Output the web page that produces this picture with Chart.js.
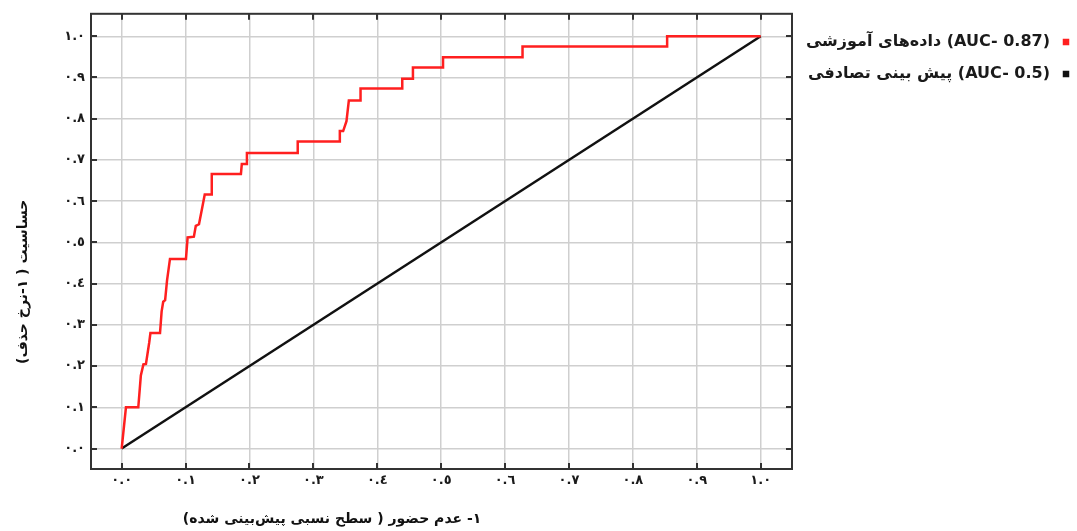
<!DOCTYPE html>
<html lang="fa">
<head>
<meta charset="utf-8">
<script src="https://cdn.jsdelivr.net/npm/chart.js@4.4.1/dist/chart.umd.min.js"></script>
<style>
  html, body { margin: 0; padding: 0; background: #fff; }
  #wrap { width: 1077px; height: 531px; }
</style>
</head>
<body>
<div id="wrap"><canvas id="rocChart"></canvas></div>
<script>
// ROC curve of the training data (false positive rate / sensitivity)
const rocFpr = [0, 0.0067, 0.026, 0.030, 0.034, 0.038, 0.043, 0.045, 0.060, 0.0625,
  0.065, 0.068, 0.071, 0.0756, 0.1006, 0.1032, 0.113, 0.116, 0.121, 0.127,
  0.130, 0.140, 0.141, 0.1866, 0.188, 0.196, 0.196, 0.2755, 0.2755, 0.3403,
  0.3414, 0.3466, 0.3518, 0.3555, 0.3738, 0.3738, 0.4391, 0.4391, 0.4558, 0.4558,
  0.5029, 0.5029, 0.6273, 0.6273, 0.8536, 0.8536, 1.0]
const rocTpr = [0, 0.100, 0.100, 0.177, 0.204, 0.205, 0.256, 0.280, 0.280, 0.332,
  0.356, 0.360, 0.408, 0.460, 0.460, 0.512, 0.514, 0.540, 0.544, 0.592,
  0.616, 0.616, 0.666, 0.666, 0.690, 0.690, 0.717, 0.717, 0.745, 0.745,
  0.770, 0.770, 0.794, 0.844, 0.844, 0.873, 0.873, 0.897, 0.897, 0.924,
  0.924, 0.949, 0.949, 0.975, 0.975, 1.0, 1.0]

// random prediction diagonal
const chanceFpr = [0, 1]
const chanceTpr = [0, 1]

const tickValues = [0, 0.1, 0.2, 0.3, 0.4, 0.5, 0.6, 0.7, 0.8, 0.9, 1.0]
const tickLabels = ['٠.٠', '٠.١', '٠.٢', '٠.٣', '٠.٤', '٠.٥', '٠.٦', '٠.٧', '٠.٨', '٠.٩', '١.٠']

const seriesLabels = ['(AUC- 0.87) داده‌های آموزشی', '(AUC- 0.5) پیش بینی تصادفی']
const seriesColors = ['#ff1f1f', '#111111']

const xTitle = '۱- عدم حضور ( سطح نسبی پیش‌بینی شده)'
const yTitle = 'حساسیت ( ۱-نرخ حذف)'

const plotLeft = 91
const plotTop = 9
const plotBottom = 469
const legendBoxWidth = 298 // legend spans from the plot's right edge past the canvas edge
const legendOverhang = 13

const fontFamily = '"DejaVu Sans", sans-serif'

function toPoints(xs, ys) {
  return xs.map((x, i) => ({ x, y: ys[i] }))
}

function setTicks(scale) {
  scale.ticks = tickValues.map(v => ({ value: v }))
}

// keep the legend at a fixed width so the plot keeps its right edge
const pinLegend = {
  id: 'pinLegend',
  afterInit(chart) {
    const legend = chart.legend
    const fit = legend.fit.bind(legend)
    legend.fit = () => {
      fit()
      legend.width = legendBoxWidth
    }
  },
}

const frameAndTitles = {
  id: 'frameAndTitles',
  afterDatasetsDraw(chart) {
    const { ctx, chartArea: { left, right, top, bottom }, scales: { x, y } } = chart
    ctx.save()
    ctx.strokeStyle = '#333'
    ctx.lineWidth = 2
    ctx.strokeRect(left, top, right - left, bottom - top)

    ctx.beginPath()
    tickValues.forEach(v => {
      const px = Math.round(x.getPixelForValue(v))
      const py = Math.round(y.getPixelForValue(v))
      ctx.moveTo(px, bottom); ctx.lineTo(px, bottom - 6)
      ctx.moveTo(px, top); ctx.lineTo(px, top + 6)
      ctx.moveTo(left, py); ctx.lineTo(left + 6, py)
      ctx.moveTo(right, py); ctx.lineTo(right - 6, py)
    })
    ctx.stroke()

    ctx.direction = 'rtl'
    ctx.fillStyle = '#111'
    ctx.font = `bold 14px ${fontFamily}`
    ctx.textAlign = 'center'
    ctx.textBaseline = 'middle'
    ctx.fillText(xTitle, left + 241, bottom + 50)

    ctx.translate(23, top + 268)
    ctx.rotate(-Math.PI / 2)
    ctx.fillText(yTitle, 0, 0)
    ctx.restore()
  },
}

const ctx = document.getElementById('rocChart').getContext('2d')

new Chart(ctx, {
  type: 'scatter',
  data: {
    datasets: [
      {
        label: seriesLabels[0],
        data: toPoints(rocFpr, rocTpr),
        borderColor: seriesColors[0],
        backgroundColor: seriesColors[0],
        borderWidth: 2.5,
      },
      {
        label: seriesLabels[1],
        data: toPoints(chanceFpr, chanceTpr),
        borderColor: seriesColors[1],
        backgroundColor: seriesColors[1],
        borderWidth: 2.5,
      },
    ],
  },
  options: {
    responsive: true,
    maintainAspectRatio: false,
    animation: false,
    showLine: true,
    elements: {
      point: { radius: 0, hoverRadius: 0 },
      line: { tension: 0 },
    },
    layout: {
      padding: { left: 0, top: plotTop, bottom: 0, right: -legendOverhang },
    },
    scales: {
      x: {
        type: 'linear',
        min: -0.048,
        max: 1.049,
        bounds: 'data',
        afterBuildTicks: setTicks,
        afterFit: s => { s.height = 531 - plotBottom },
        border: { display: false },
        grid: { color: '#cfcfcf', lineWidth: 1.5, drawTicks: false },
        ticks: {
          autoSkip: false,
          maxRotation: 0,
          padding: 4,
          color: '#1a1a1a',
          font: { family: fontFamily, size: 13, weight: 'bold' },
          callback: (v, i) => tickLabels[i],
        },
      },
      y: {
        type: 'linear',
        min: -0.0497,
        max: 1.0545,
        bounds: 'data',
        afterBuildTicks: setTicks,
        afterFit: s => { s.width = plotLeft },
        border: { display: false },
        grid: { color: '#cfcfcf', lineWidth: 1.5, drawTicks: false },
        ticks: {
          autoSkip: false,
          padding: 6,
          color: '#1a1a1a',
          font: { family: fontFamily, size: 13, weight: 'bold' },
          callback: (v, i) => tickLabels[i],
        },
      },
    },
    plugins: {
      tooltip: { enabled: false },
      legend: {
        position: 'right',
        align: 'start',
        rtl: true,
        textDirection: 'rtl',
        title: { display: true, text: '', font: { size: 7.5 }, padding: 0 },
        labels: {
          usePointStyle: true,
          pointStyle: 'rect',
          boxHeight: 4,
          padding: 16,
          color: '#1a1a1a',
          font: { family: fontFamily, size: 16, weight: 'bold' },
        },
      },
    },
  },
  plugins: [pinLegend, frameAndTitles],
})
</script>
</body>
</html>
